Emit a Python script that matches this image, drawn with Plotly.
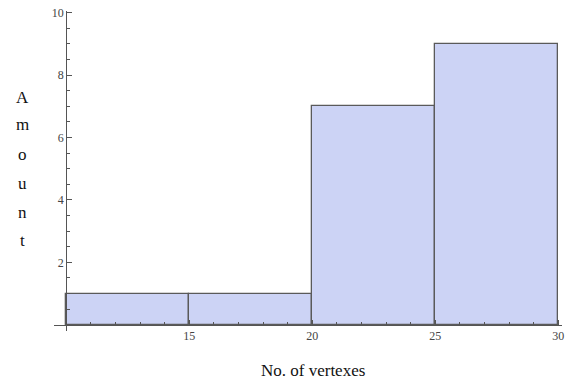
import plotly.graph_objects as go

# Histogram data
bin_edges = [10, 15, 20, 25, 30]
counts = [1, 1, 7, 9]
x_tickvals = [15, 20, 25, 30]
y_tickvals = [2, 4, 6, 8, 10]
x_title = "No. of vertexes"
y_title_letters = ["A", "m", "o", "u", "n", "t"]

centers = [(a + b) / 2 for a, b in zip(bin_edges[:-1], bin_edges[1:])]
widths = [b - a for a, b in zip(bin_edges[:-1], bin_edges[1:])]

W, H = 569, 385
L, R, T, B = 54, 7, 11, 54
pw, ph = W - L - R, H - T - B

xr = [9.5, 30.15]
yr = [-0.2, 10.05]

fig = go.Figure()
fig.add_trace(go.Bar(
    x=centers, y=counts, width=widths,
    marker=dict(color="#CCD3F5", line=dict(color="#5a5a5a", width=1.3)),
    showlegend=False, hoverinfo="skip",
))

serif = "Liberation Serif, Times New Roman, serif"
tickfont = dict(family=serif, size=12, color="#444444")

fig.update_layout(
    width=W, height=H,
    margin=dict(l=L, r=R, t=T, b=B, autoexpand=False),
    paper_bgcolor="white", plot_bgcolor="white",
    bargap=0,
    xaxis=dict(
        range=xr, anchor="free", automargin=False,
        position=(0 - yr[0]) / (yr[1] - yr[0]),
        showgrid=False, zeroline=False,
        showline=True, linecolor="#555555", linewidth=1.3,
        tickmode="array", tickvals=x_tickvals,
        ticks="inside", ticklen=5, tickcolor="#555555", tickwidth=1.3,
        minor=dict(tickmode="linear", tick0=10, dtick=1, ticks="inside",
                   ticklen=3, tickcolor="#555555", tickwidth=1.3),
        tickfont=tickfont, ticklabeloverflow="allow",
    ),
    yaxis=dict(
        range=yr, anchor="free", automargin=False,
        position=(bin_edges[0] - xr[0]) / (xr[1] - xr[0]),
        showgrid=False, zeroline=False,
        showline=True, linecolor="#555555", linewidth=1.3,
        tickmode="array", tickvals=y_tickvals,
        ticks="inside", ticklen=5, tickcolor="#555555", tickwidth=1.3,
        minor=dict(tickmode="linear", tick0=0, dtick=0.5, ticks="inside",
                   ticklen=3, tickcolor="#555555", tickwidth=1.3),
        tickfont=tickfont, ticklabeloverflow="allow",
    ),
)

def px_to_paper(px, py):
    return (px - L) / pw, 1 - (py - T) / ph

annots = []
letter_y = [97, 125, 154, 183, 212, 240]
for ch, py in zip(y_title_letters, letter_y):
    ax, ay = px_to_paper(22, py)
    annots.append(dict(text=ch, x=ax, y=ay, xref="paper", yref="paper",
                       showarrow=False, xanchor="center", yanchor="middle",
                       font=dict(family=serif, size=17, color="#111111")))
tx, ty = px_to_paper(313, 370)
annots.append(dict(text=x_title, x=tx, y=ty, xref="paper", yref="paper",
                   showarrow=False, xanchor="center", yanchor="middle",
                   font=dict(family=serif, size=17, color="#111111")))
fig.update_layout(annotations=annots)

# remove the default 8px page margin so the figure fills the window exactly
fig.write_html(
    "out.html",
    config={"displayModeBar": False},
    post_script="document.body.style.margin='0';document.body.style.overflow='hidden';",
)
